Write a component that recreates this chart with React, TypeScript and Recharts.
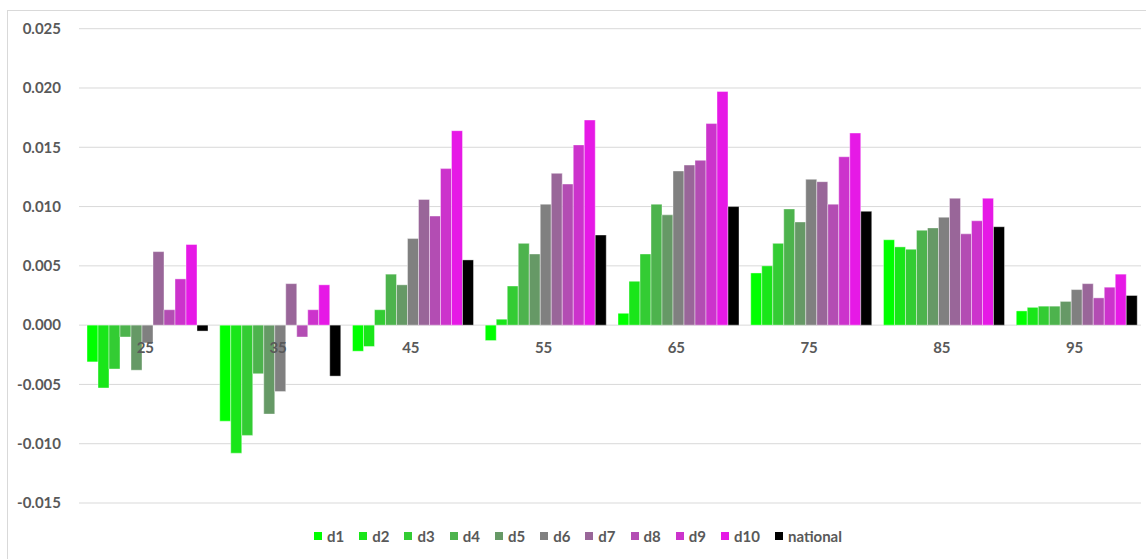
import { BarChart, Bar, XAxis, YAxis, CartesianGrid, Legend } from "recharts";

const ages = ["25", "35", "45", "55", "65", "75", "85", "95"];

const d1 = [-0.0031, -0.0081, -0.0022, -0.0013, 0.001, 0.0044, 0.0072, 0.0012];
const d2 = [-0.0053, -0.0108, -0.0018, 0.0005, 0.0037, 0.005, 0.0066, 0.0015];
const d3 = [-0.0037, -0.0093, 0.0013, 0.0033, 0.006, 0.0069, 0.0064, 0.0016];
const d4 = [-0.001, -0.0041, 0.0043, 0.0069, 0.0102, 0.0098, 0.008, 0.0016];
const d5 = [-0.0038, -0.0075, 0.0034, 0.006, 0.0093, 0.0087, 0.0082, 0.002];
const d6 = [-0.0015, -0.0056, 0.0073, 0.0102, 0.013, 0.0123, 0.0091, 0.003];
const d7 = [0.0062, 0.0035, 0.0106, 0.0128, 0.0135, 0.0121, 0.0107, 0.0035];
const d8 = [0.0013, -0.001, 0.0092, 0.0119, 0.0139, 0.0102, 0.0077, 0.0023];
const d9 = [0.0039, 0.0013, 0.0132, 0.0152, 0.017, 0.0142, 0.0088, 0.0032];
const d10 = [0.0068, 0.0034, 0.0164, 0.0173, 0.0197, 0.0162, 0.0107, 0.0043];
const national = [-0.0005, -0.0043, 0.0055, 0.0076, 0.01, 0.0096, 0.0083, 0.0025];

const yTicks = [-0.015, -0.01, -0.005, 0, 0.005, 0.01, 0.015, 0.02, 0.025];

const series = [
  { key: "d1", values: d1, color: "#00ff00" },
  { key: "d2", values: d2, color: "#19e619" },
  { key: "d3", values: d3, color: "#33cc33" },
  { key: "d4", values: d4, color: "#4db34d" },
  { key: "d5", values: d5, color: "#669966" },
  { key: "d6", values: d6, color: "#808080" },
  { key: "d7", values: d7, color: "#996699" },
  { key: "d8", values: d8, color: "#b34db3" },
  { key: "d9", values: d9, color: "#cc33cc" },
  { key: "d10", values: d10, color: "#e619e6" },
  { key: "national", values: national, color: "#000000" },
];

const data = ages.map((age, i) => {
  const row: Record<string, string | number> = { age };
  series.forEach((s) => (row[s.key] = s.values[i]));
  return row;
});

const Y_MIN = -0.015;
const Y_MAX = 0.025;
const TOP = 28.7;
const BOTTOM = 503;
const ZERO_Y = TOP + ((BOTTOM - TOP) * Y_MAX) / (Y_MAX - Y_MIN);

const FONT = "Lato, 'Open Sans', sans-serif";
const TEXT = "#595959";

const XTick = (props: any) => {
  const { x, payload } = props;
  return (
    <text x={x} y={ZERO_Y + 28} textAnchor="middle" fill={TEXT}
      fontFamily={FONT} fontSize={15} fontWeight="bold">
      {payload.value}
    </text>
  );
};

const LegendContent = () => (
  <div style={{ display: "flex", justifyContent: "center", fontFamily: FONT, fontSize: 15, fontWeight: "bold", color: TEXT }}>
    {series.map((s) => (
      <div key={s.key} style={{ display: "flex", alignItems: "center", marginRight: 15 }}>
        <span style={{ width: 8, height: 8, background: s.color, marginRight: 5, display: "inline-block" }} />
        <span>{s.key}</span>
      </div>
    ))}
  </div>
);

export default function App() {
  return (
    <div style={{ position: "absolute", left: 0, top: 0, width: 1146, height: 559, background: "#fff", overflow: "hidden" }}>
      <div style={{ position: "absolute", left: 7, top: 10, width: 1200, height: 600, border: "1px solid #d9d9d9" }} />
      <BarChart width={1146} height={559} data={data} barGap={0} barCategoryGap={8}
        margin={{ top: TOP, right: 5, bottom: 559 - BOTTOM - 30, left: 0 }}>
        <CartesianGrid vertical={false} stroke="#d9d9d9" strokeWidth={1} />
        <XAxis dataKey="age" axisLine={false} tickLine={false} tick={<XTick />} height={30} interval={0} />
        <YAxis domain={[Y_MIN, Y_MAX]} ticks={yTicks} width={79} axisLine={false} tickLine={false}
          tickMargin={12} tickFormatter={(v: number) => v.toFixed(3)}
          tick={{ fill: TEXT, fontFamily: FONT, fontSize: 15, fontWeight: "bold" }} />
        <Legend verticalAlign="middle" align="center" layout="horizontal"
          wrapperStyle={{ top: 527, left: 0, width: 1171 }} content={<LegendContent />} />
        {series.map((s) => (
          <Bar key={s.key} dataKey={s.key} fill={s.color} stroke="#ffffff" strokeWidth={0.4}
            isAnimationActive={false} />
        ))}
      </BarChart>
    </div>
  );
}
